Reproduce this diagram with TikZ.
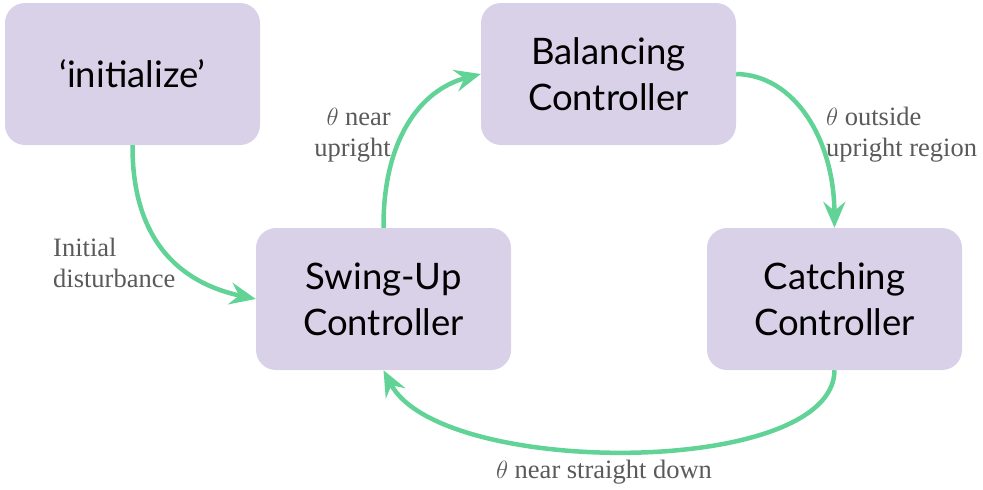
\documentclass[tikz,border=0pt]{standalone}
\usepackage{fontspec}
\setmainfont{Liberation Serif}
\newfontfamily\boxfont{Lato}
\usetikzlibrary{arrows.meta}
\definecolor{boxfill}{HTML}{D9D1E8}
\definecolor{arrowgreen}{HTML}{62D396}
\definecolor{labelgray}{HTML}{5A5A5A}
\tikzset{
  statebox/.style={rectangle, rounded corners=20pt, fill=boxfill, minimum width=255pt, minimum height=142pt, inner sep=0pt, align=center, font=\boxfont\fontsize{36.5}{46}\selectfont, text=black},
  trans/.style={draw=arrowgreen, line width=4.5pt, -{Stealth[length=26pt,width=22pt,inset=9pt]}},
  lbl/.style={text=labelgray, font=\fontsize{26.5}{31}\selectfont, inner sep=0pt}
}
\begin{document}
\begin{tikzpicture}[x=1pt,y=-1pt]
\useasboundingbox (0,0) rectangle (983,490);
\node[statebox] (init) at (132.5,74) {‘initialize’};
\node[statebox] (bal) at (608.5,74) {Balancing\\Controller};
\node[statebox] (swing) at (383.5,299) {Swing-Up\\Controller};
\node[statebox] (catch) at (834.5,299) {Catching\\Controller};
\draw[trans] (init.south) .. controls (132,250) and (190,285) .. (swing.west);
\draw[trans] (swing.north) .. controls (383,140) and (420,90) .. (bal.west);
\draw[trans] (bal.east) .. controls (795,75) and (834,140) .. (catch.north);
\draw[trans] (catch.south) .. controls (834,478) and (440,478) .. (swing.south);
\node[lbl, align=left, anchor=west] (l1) at (53,263) {Initial\\disturbance};
\node[lbl, align=right, anchor=east] (l2) at (391,135) {$\theta$ near\\upright};
\node[lbl, align=left, anchor=west] (l3) at (826,135) {$\theta$ outside\\upright region};
\node[lbl] (l4) at (604,472) {$\theta$ near straight down};
\end{tikzpicture}
\end{document}
